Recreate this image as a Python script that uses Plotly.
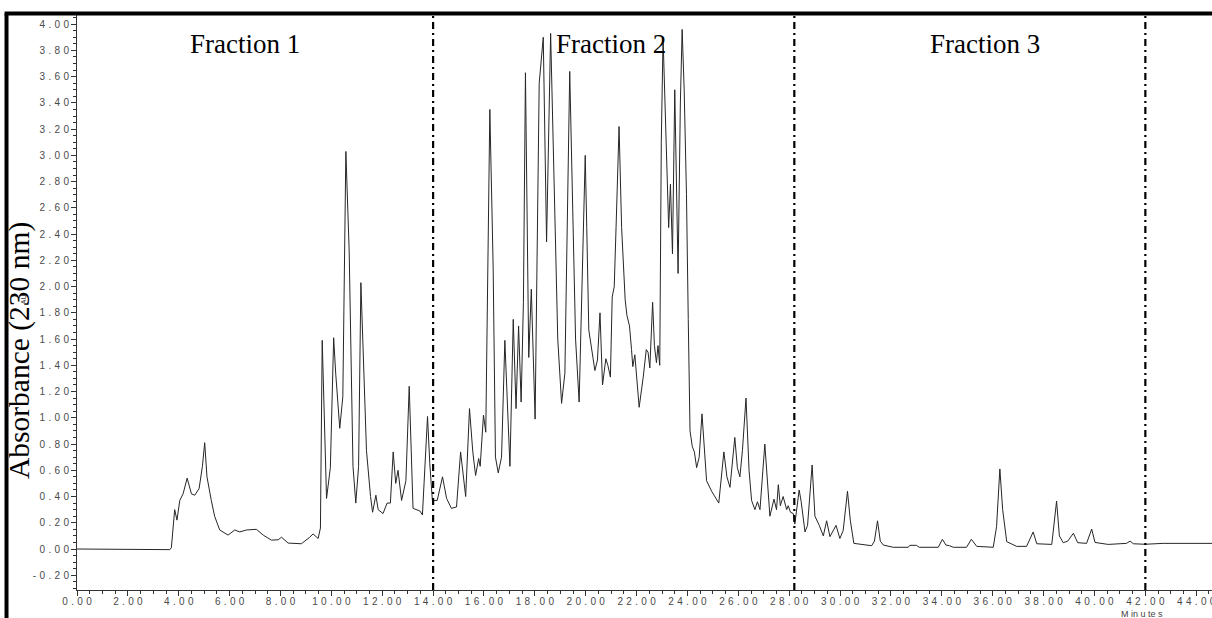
import plotly.graph_objects as go

# Chromatogram readings (retention time in minutes, absorbance in AU)
time_min = [
    0.00, 0.60, 0.65, 1.30, 1.35, 2.05, 2.10, 3.65, 3.71, 3.84, 3.93, 4.04, 4.17, 4.33, 4.50, 4.63,
    4.80, 4.93, 5.02, 5.11, 5.28, 5.41, 5.61, 5.94, 6.20, 6.40, 6.66, 7.05, 7.32, 7.64, 7.91, 8.04,
    8.30, 8.82, 9.15, 9.28, 9.48, 9.57, 9.64, 9.70, 9.81, 9.96, 10.09, 10.17, 10.33, 10.45, 10.57,
    10.70, 10.85, 10.96, 11.07, 11.16, 11.27, 11.38, 11.54, 11.62, 11.75, 11.84, 12.03, 12.19, 12.32,
    12.43, 12.53, 12.62, 12.76, 12.93, 13.06, 13.15, 13.21, 13.48, 13.58, 13.78, 13.87, 13.97, 14.16,
    14.37, 14.53, 14.72, 14.92, 15.08, 15.28, 15.43, 15.56, 15.67, 15.79, 15.85, 15.98, 16.07, 16.12,
    16.23, 16.36, 16.45, 16.56, 16.69, 16.82, 16.91, 17.02, 17.15, 17.26, 17.36, 17.46, 17.55, 17.63,
    17.76, 17.86, 18.01, 18.17, 18.33, 18.46, 18.62, 18.79, 18.90, 19.05, 19.18, 19.37, 19.50, 19.60,
    19.74, 19.85, 19.98, 20.04, 20.12, 20.29, 20.36, 20.46, 20.56, 20.66, 20.79, 20.87, 20.97, 21.04,
    21.12, 21.20, 21.31, 21.41, 21.55, 21.62, 21.72, 21.80, 21.85, 21.93, 22.10, 22.26, 22.38, 22.45,
    22.52, 22.63, 22.70, 22.78, 22.84, 22.91, 22.97, 23.04, 23.13, 23.20, 23.26, 23.33, 23.41, 23.50,
    23.57, 23.63, 23.72, 23.79, 23.87, 23.96, 24.03, 24.10, 24.19, 24.27, 24.36, 24.46, 24.57, 24.65,
    24.75, 24.95, 25.08, 25.23, 25.43, 25.55, 25.67, 25.86, 25.96, 26.06, 26.16, 26.30, 26.42, 26.52,
    26.65, 26.75, 26.85, 27.04, 27.24, 27.40, 27.50, 27.57, 27.65, 27.76, 27.90, 27.96, 28.05, 28.16,
    28.22, 28.39, 28.47, 28.62, 28.72, 28.90, 29.01, 29.18, 29.34, 29.47, 29.60, 29.84, 29.99, 30.12,
    30.29, 30.40, 30.54, 30.91, 31.24, 31.35, 31.47, 31.58, 31.70, 32.09, 32.68, 32.74, 33.00, 33.11,
    33.86, 34.02, 34.16, 34.30, 34.45, 34.97, 35.16, 35.37, 36.02, 36.15, 36.28, 36.39, 36.55, 36.94,
    37.33, 37.59, 37.73, 38.32, 38.41, 38.51, 38.62, 38.77, 38.95, 39.17, 39.34, 39.69, 39.89, 40.02,
    40.54, 41.26, 41.40, 41.53, 41.99, 42.70, 44.62,
]
absorbance = [
    0.000, 0.000, -0.005, -0.005, 0.000, 0.000, -0.005, -0.005, 0.01, 0.30, 0.22, 0.37, 0.42, 0.54, 0.42, 0.41,
    0.46, 0.63, 0.81, 0.55, 0.37, 0.25, 0.145, 0.106, 0.145, 0.13, 0.145, 0.15, 0.106, 0.068, 0.07, 0.09,
    0.045, 0.04, 0.09, 0.115, 0.08, 0.16, 1.59, 1.16, 0.385, 0.62, 1.61, 1.34, 0.92, 1.16, 3.03,
    2.27, 0.63, 0.35, 0.63, 2.03, 1.39, 0.75, 0.40, 0.28, 0.41, 0.30, 0.27, 0.35, 0.35,
    0.74, 0.50, 0.60, 0.37, 0.52, 1.24, 0.73, 0.31, 0.29, 0.26, 1.01, 0.65, 0.37, 0.37,
    0.55, 0.385, 0.31, 0.32, 0.74, 0.40, 1.07, 0.74, 0.56, 0.69, 0.63, 1.02, 0.89, 1.61,
    3.35, 2.15, 0.70, 0.58, 0.70, 1.59, 1.10, 0.63, 1.75, 1.07, 1.70, 1.12, 1.88, 3.63,
    1.46, 1.98, 0.99, 3.55, 3.90, 2.34, 3.93, 2.65, 1.60, 1.11, 1.34, 3.64, 2.60, 1.60,
    1.12, 2.00, 3.00, 2.45, 1.67, 1.45, 1.36, 1.44, 1.80, 1.25, 1.45, 1.40, 1.31, 1.92,
    2.00, 2.50, 3.22, 2.45, 1.90, 1.78, 1.70, 1.52, 1.39, 1.48, 1.08, 1.31, 1.52, 1.50,
    1.38, 1.88, 1.55, 1.42, 1.55, 1.40, 3.10, 3.90, 3.30, 2.75, 2.45, 2.78, 2.25, 3.50,
    2.60, 2.10, 3.40, 3.96, 3.50, 2.70, 1.75, 0.90, 0.78, 0.74, 0.62, 0.70, 1.03, 0.78,
    0.52, 0.44, 0.40, 0.35, 0.74, 0.55, 0.47, 0.85, 0.62, 0.55, 0.75, 1.15, 0.60, 0.37,
    0.30, 0.36, 0.30, 0.80, 0.25, 0.38, 0.30, 0.49, 0.33, 0.40, 0.30, 0.33, 0.28, 0.27,
    0.19, 0.45, 0.36, 0.13, 0.18, 0.64, 0.25, 0.18, 0.10, 0.215, 0.094, 0.18, 0.08, 0.14,
    0.44, 0.22, 0.043, 0.035, 0.025, 0.06, 0.215, 0.06, 0.03, 0.013, 0.013, 0.028, 0.028, 0.013,
    0.013, 0.074, 0.03, 0.025, 0.013, 0.013, 0.074, 0.02, 0.013, 0.17, 0.61, 0.30, 0.056, 0.02,
    0.02, 0.13, 0.04, 0.035, 0.22, 0.365, 0.10, 0.048, 0.06, 0.12, 0.048, 0.043, 0.152, 0.05,
    0.035, 0.043, 0.06, 0.04, 0.036, 0.043, 0.043,
]

fraction_bounds = [14.0, 28.2, 42.0]
fraction_labels = ["Fraction 1", "Fraction 2", "Fraction 3"]
fraction_label_x = [6.6, 21.0, 35.7]

x_tick_vals = [float(v) for v in range(0, 46, 2)]
y_tick_vals = [round(-0.2 + 0.2 * i, 2) for i in range(22)]

GAP = "\u2004"  # three-per-em space, mimics the letter-spaced tick labels


def spaced(v):
    return GAP.join(f"{v:.2f}")


x_tick_text = [spaced(v) for v in x_tick_vals]
y_tick_text = [spaced(v) for v in y_tick_vals]

fig = go.Figure()
fig.add_trace(go.Scatter(
    x=time_min, y=absorbance, mode="lines",
    line=dict(color="#262626", width=1),
    hoverinfo="skip", showlegend=False,
))

# Fraction boundaries (dash-dot vertical lines)
for b in fraction_bounds:
    fig.add_shape(type="line", xref="x", yref="paper", x0=b, x1=b, y0=0, y1=1,
                  line=dict(color="black", width=2.2, dash="7px,4px,2px,4px"))

# Fraction labels
for lab, lx in zip(fraction_labels, fraction_label_x):
    fig.add_annotation(x=lx, y=3.85, xref="x", yref="y", text=lab, showarrow=False,
                       xanchor="center", yanchor="middle",
                       font=dict(family="Liberation Serif, Times New Roman, serif", size=27, color="black"))

# Thick frame at left and top
fig.add_shape(type="line", xref="paper", yref="paper", x0=-0.0621, x1=-0.0621, y0=-0.06, y1=1.0026,
              line=dict(color="black", width=4))
fig.add_shape(type="line", xref="paper", yref="paper", x0=-0.0638, x1=1.0, y0=1.0026, y1=1.0026,
              line=dict(color="black", width=4))

# Y-axis title
fig.add_annotation(xref="paper", yref="paper", x=-0.0502, y=0.4157, text="Absorbance (230 nm)",
                   textangle=-90, showarrow=False, xanchor="center", yanchor="middle",
                   font=dict(family="Liberation Serif, Times New Roman, serif", size=29.5, color="black"))
fig.add_annotation(xref="paper", yref="paper", x=-0.0475, y=0.506, text="AU",
                   textangle=-90, showarrow=False, xanchor="center", yanchor="middle",
                   font=dict(family="Liberation Sans, Arial, sans-serif", size=7, color="#333"))

# X-axis title (sits at the very bottom edge, as in the original)
fig.add_annotation(xref="paper", yref="paper", x=0.938, y=-0.0415, text="M in u te s",
                   showarrow=False, xanchor="center", yanchor="middle",
                   font=dict(family="Liberation Sans, Arial, sans-serif", size=9, color="#444"))

tick_font = dict(family="Liberation Sans, Arial, sans-serif", size=10, color="#4a4a4a")

fig.update_xaxes(
    range=[0, 44.62], showgrid=False, zeroline=False,
    showline=True, linecolor="#333", linewidth=1,
    tickmode="array", tickvals=x_tick_vals, ticktext=x_tick_text,
    ticks="outside", ticklen=5, tickwidth=1, tickcolor="#333", tickfont=tick_font,
    ticklabeloverflow="allow", ticklabelstandoff=-3,
    minor=dict(tickmode="linear", tick0=0, dtick=0.5, ticks="outside", ticklen=3,
               tickwidth=1, tickcolor="#333", showgrid=False),
)
fig.update_yaxes(
    range=[-0.3125, 4.07], showgrid=False, zeroline=False,
    showline=True, linecolor="#333", linewidth=1,
    tickmode="array", tickvals=y_tick_vals, ticktext=y_tick_text,
    ticks="outside", ticklen=5, tickwidth=1, tickcolor="#333", tickfont=tick_font,
    minor=dict(tickmode="linear", tick0=0, dtick=0.05, ticks="outside", ticklen=3,
               tickwidth=1, tickcolor="#333", showgrid=False),
)

fig.update_layout(
    width=1212, height=618,
    margin=dict(l=77, r=0, t=15, b=28, autoexpand=False),
    paper_bgcolor="white", plot_bgcolor="white",
    showlegend=False,
)

fig.write_html("out.html", config={"displayModeBar": False},
               post_script="document.body.style.margin='0';document.body.style.overflow='hidden';")
